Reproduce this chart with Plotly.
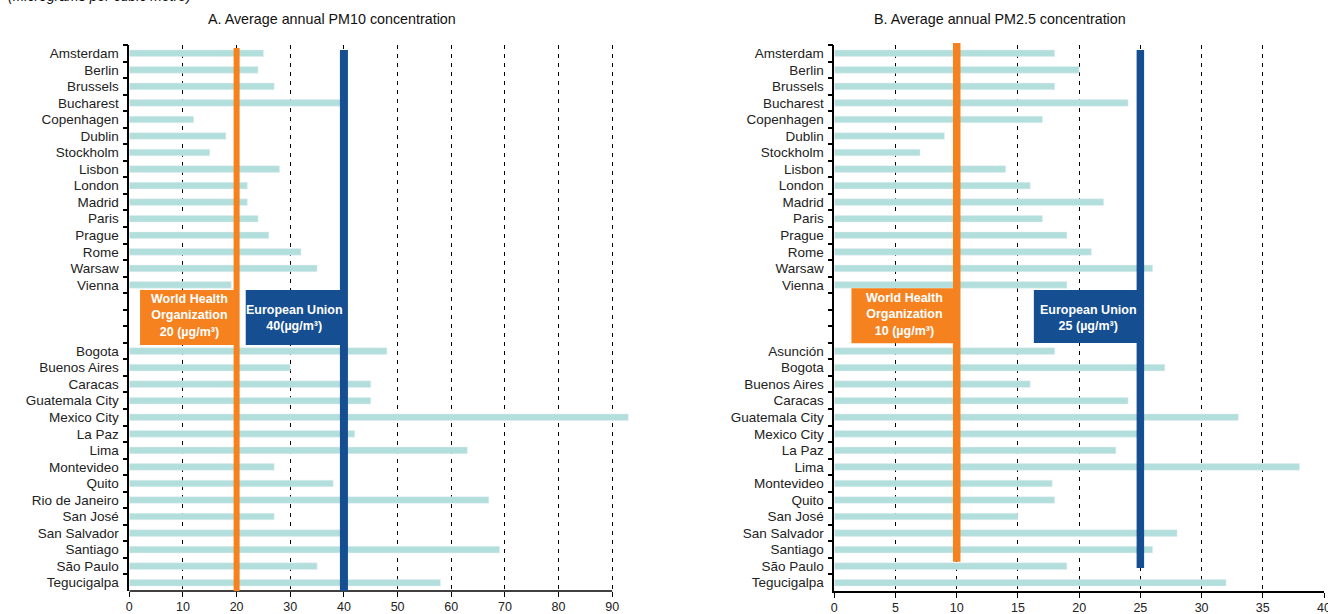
import plotly.graph_objects as go

# PM10 (left panel)
pm10_europe = ["Amsterdam", "Berlin", "Brussels", "Bucharest", "Copenhagen", "Dublin",
               "Stockholm", "Lisbon", "London", "Madrid", "Paris", "Prague", "Rome",
               "Warsaw", "Vienna"]
pm10_europe_values = [25, 24, 27, 39.5, 12, 18, 15, 28, 22, 22, 24, 26, 32, 35, 19]
pm10_latam = ["Bogota", "Buenos Aires", "Caracas", "Guatemala City", "Mexico City", "La Paz",
              "Lima", "Montevideo", "Quito", "Rio de Janeiro", "San José", "San Salvador",
              "Santiago", "São Paulo", "Tegucigalpa"]
pm10_latam_values = [48, 30, 45, 45, 93, 42, 63, 27, 38, 67, 27, 39.5, 69, 35, 58]

# PM2.5 (right panel)
pm25_europe = ["Amsterdam", "Berlin", "Brussels", "Bucharest", "Copenhagen", "Dublin",
               "Stockholm", "Lisbon", "London", "Madrid", "Paris", "Prague", "Rome",
               "Warsaw", "Vienna"]
pm25_europe_values = [18, 20, 18, 24, 17, 9, 7, 14, 16, 22, 17, 19, 21, 26, 19]
pm25_latam = ["Asunción", "Bogota", "Buenos Aires", "Caracas", "Guatemala City", "Mexico City",
              "La Paz", "Lima", "Montevideo", "Quito", "San José", "San Salvador", "Santiago",
              "São Paulo", "Tegucigalpa"]
pm25_latam_values = [18, 27, 16, 24, 33, 24.8, 23, 38, 17.8, 18, 15, 28, 26, 19, 32]

gap_rows = [" ", "  ", "   "]

who_pm10, eu_pm10 = 20, 40
who_pm25, eu_pm25 = 10, 25

TEAL = "#B2DFDB"
ORANGE = "#F5821F"
BLUE = "#154E91"
FONT = "Arial"

W, H = 1328, 614
ML, MR, MT, MB = 0, 0, 45, 23
PH = H - MT - MB


def px_x(p):
    # window pixel -> paper x
    return (p - ML) / (W - ML - MR)


def px_y(p):
    # window pixel -> paper y
    return (H - MB - p) / PH


fig = go.Figure()

left_y = pm10_europe + gap_rows + pm10_latam
left_x = pm10_europe_values + [None] * 3 + pm10_latam_values
right_y = pm25_europe + gap_rows + pm25_latam
right_x = pm25_europe_values + [None] * 3 + pm25_latam_values

fig.add_trace(go.Bar(x=left_x, y=left_y, orientation="h", marker=dict(color=TEAL),
                     xaxis="x", yaxis="y", hoverinfo="x+y"))
fig.add_trace(go.Bar(x=right_x, y=right_y, orientation="h", marker=dict(color=TEAL),
                     xaxis="x2", yaxis="y2", hoverinfo="x+y"))

xcommon = dict(showgrid=True, gridcolor="black", gridwidth=1, griddash="4px,5px",
               zeroline=False, ticks="outside", ticklen=5, tickwidth=1.2, automargin=False,
               ticklabeloverflow="allow", tickcolor="black", ticklabelstandoff=-1,
               tickfont=dict(family=FONT, size=12.5, color="#222"))
ycommon = dict(type="category", showgrid=False, zeroline=False, showline=True,
               linecolor="black", linewidth=1.5, ticks="outside", ticklen=5,
               tickwidth=1.5, tickcolor="black", tickson="boundaries", automargin=False,
               ticklabelstandoff=6, range=[32.5, -0.5],
               tickfont=dict(family=FONT, size=13.5, color="#222"))

fig.update_layout(
    width=W, height=H,
    margin=dict(l=ML, r=MR, t=MT, b=MB),
    paper_bgcolor="white", plot_bgcolor="white",
    showlegend=False, bargap=0.6,
    font=dict(family=FONT, color="#222"),
    xaxis=dict(domain=[px_x(129.3), px_x(631)], range=[0, 93.5], dtick=10,
               showline=False, anchor="y", **xcommon),
    yaxis=dict(domain=[0, 1], anchor="x", **ycommon),
    xaxis2=dict(domain=[px_x(834.3), px_x(1324)], range=[0, 40], dtick=5,
                showline=True, linecolor="black", linewidth=1.5, anchor="y2", **xcommon),
    yaxis2=dict(domain=[0, 1], anchor="x2", **ycommon),
)

# left bottom axis line stops at the last tick
fig.add_shape(type="line", xref="x", yref="y domain", x0=0, x1=90, y0=0, y1=0,
              line=dict(color="black", width=1.5), layer="above")

# guideline bars
fig.add_shape(type="line", xref="x", yref="y domain", x0=who_pm10, x1=who_pm10,
              y0=0, y1=px_y(48), line=dict(color=ORANGE, width=6), layer="above")
fig.add_shape(type="line", xref="x", yref="y domain", x0=eu_pm10, x1=eu_pm10,
              y0=0, y1=px_y(50), line=dict(color=BLUE, width=8), layer="above")
fig.add_shape(type="line", xref="x2", yref="y2 domain", x0=who_pm25, x1=who_pm25,
              y0=px_y(561.7), y1=px_y(43), line=dict(color=ORANGE, width=7.5), layer="above")
fig.add_shape(type="line", xref="x2", yref="y2 domain", x0=eu_pm25, x1=eu_pm25,
              y0=px_y(568), y1=px_y(50), line=dict(color=BLUE, width=7.5), layer="above")

# label boxes
boxes = [
    ("x", "y", 2.0, who_pm10 + 0.3, 14.31, 17.63, ORANGE, 11.2, 15.86,
     "World Health<br>Organization<br>20 (µg/m³)"),
    ("x", "y", 21.7, eu_pm10, 14.31, 17.63, BLUE, 30.8, 15.99,
     "European Union<br>40(µg/m³)"),
    ("x2", "y2", 1.4, who_pm25, 14.2, 17.53, ORANGE, 5.7, 15.8,
     "World Health<br>Organization<br>10 (µg/m³)"),
    ("x2", "y2", 16.3, eu_pm25, 14.31, 17.51, BLUE, 20.8, 15.97,
     "European Union<br>25 (µg/m³)"),
]
for xr, yr, x0, x1, y0, y1, col, tx, ty, txt in boxes:
    fig.add_shape(type="rect", xref=xr, yref=yr, x0=x0, x1=x1, y0=y0, y1=y1,
                  fillcolor=col, line=dict(width=0), layer="above")
    fig.add_annotation(xref=xr, yref=yr, x=tx, y=ty, text="<b>" + txt + "</b>",
                       showarrow=False, font=dict(family=FONT, size=12.5, color="white"),
                       align="center")

# titles
fig.add_annotation(xref="paper", yref="paper", x=px_x(331.5), y=px_y(19),
                   text="A. Average annual PM10 concentration", showarrow=False,
                   font=dict(family=FONT, size=14.3, color="#111"), xanchor="center",
                   yanchor="middle")
fig.add_annotation(xref="paper", yref="paper", x=px_x(1000), y=px_y(19),
                   text="B. Average annual PM2.5 concentration", showarrow=False,
                   font=dict(family=FONT, size=14.3, color="#111"), xanchor="center",
                   yanchor="middle")
# top line of the page is cut off in the original too
fig.add_annotation(xref="paper", yref="paper", x=px_x(6), y=px_y(-4),
                   text="<i>(Micrograms per cubic metre)</i>", showarrow=False,
                   font=dict(family=FONT, size=14, color="#111"), xanchor="left",
                   yanchor="middle")

# drop the default 8px page margin so the figure fills the window exactly
fig.write_html("out.html", config={"displayModeBar": False},
               post_script="document.body.style.margin = '0';")
